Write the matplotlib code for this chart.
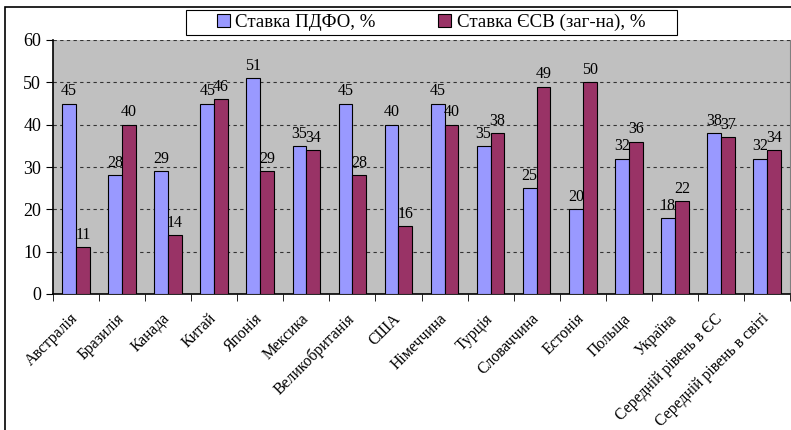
import numpy as np
import matplotlib
matplotlib.use('Agg')
from matplotlib import pyplot as plt
from matplotlib.patches import Rectangle
from matplotlib.transforms import ScaledTranslation

plt.rcParams['font.family'] = ['Liberation Serif', 'DejaVu Serif']

countries = ['Австралія', 'Бразилія', 'Канада', 'Китай', 'Японія', 'Мексика',
             'Великобританія', 'США', 'Німеччина', 'Турція', 'Словаччина',
             'Естонія', 'Польща', 'Україна', 'Середній рівень в ЄС',
             'Середній рівень в світі']
pdfo = [45, 28, 29, 45, 51, 35, 45, 40, 45, 35, 25, 20, 32, 18, 38, 32]
esv = [11, 40, 14, 46, 29, 34, 28, 16, 40, 38, 49, 50, 36, 22, 37, 34]

fig = plt.figure(figsize=(7.91, 4.30), dpi=100)
ax = fig.add_axes([53 / 791, 1 - 294 / 430, 737 / 791, 254 / 430])

# outer chart frame
fig.patches.append(Rectangle((5 / 791, -0.1), 1.2, 1 - 7 / 430 + 0.1,
                             transform=fig.transFigure, fill=False,
                             edgecolor='black', linewidth=1.2))
# legend box drawn by hand (wide horizontal padding like Excel)
fig.patches.append(Rectangle((186 / 791, 1 - 35 / 430), 491 / 791, 25 / 430,
                             transform=fig.transFigure, facecolor='white',
                             edgecolor='black', linewidth=0.8, zorder=5))

x = np.arange(len(countries))
w = 0.3
b1 = ax.bar(x - w / 2, pdfo, w, color='#9999FF', edgecolor='black',
            linewidth=0.8, label='Ставка ПДФО, %', zorder=3)
b2 = ax.bar(x + w / 2, esv, w, color='#993366', edgecolor='black',
            linewidth=0.8, label='Ставка ЄСВ (заг-на), %', zorder=3)
ax.bar_label(b1, padding=3, fontsize=11.5)
ax.bar_label(b2, padding=3, fontsize=11.5)

ax.set_facecolor('#C0C0C0')
ax.set_xlim(-0.5, len(countries) - 0.5)
ax.set_ylim(0, 60)
ax.set_yticks(range(0, 61, 10))
ax.yaxis.grid(True, linestyle=(0, (3, 3)), color='#333333', linewidth=0.8, zorder=0)

# ticks at category boundaries, labels at centres
ax.set_xticks(x)
ax.set_xticklabels(countries, rotation=45, ha='right', rotation_mode='anchor',
                   fontsize=11.3)
ax.tick_params(axis='x', which='major', length=0, pad=12)
ax.set_xticks(np.arange(-0.5, len(countries)), minor=True)
ax.tick_params(axis='x', which='minor', length=5, direction='out')
ax.tick_params(axis='y', length=5, direction='out', labelsize=13)
shift = ScaledTranslation(-0.06, 0, fig.dpi_scale_trans)
for lab in ax.get_xticklabels():
    lab.set_transform(lab.get_transform() + shift)

ax.spines['top'].set_visible(False)
ax.spines['right'].set_color('#808080')
ax.spines['left'].set_linewidth(1.2)
ax.spines['bottom'].set_linewidth(1.2)

leg = fig.legend(handles=[b1, b2], loc='center', bbox_to_anchor=(431 / 791, 1 - 22.5 / 430),
                 ncol=2, fontsize=13.6, frameon=False,
                 handlelength=0.7, handleheight=0.7, handletextpad=0.3,
                 columnspacing=3.3, borderpad=0.1)
leg.set_zorder(6)

fig.savefig('out.png', dpi=100)
